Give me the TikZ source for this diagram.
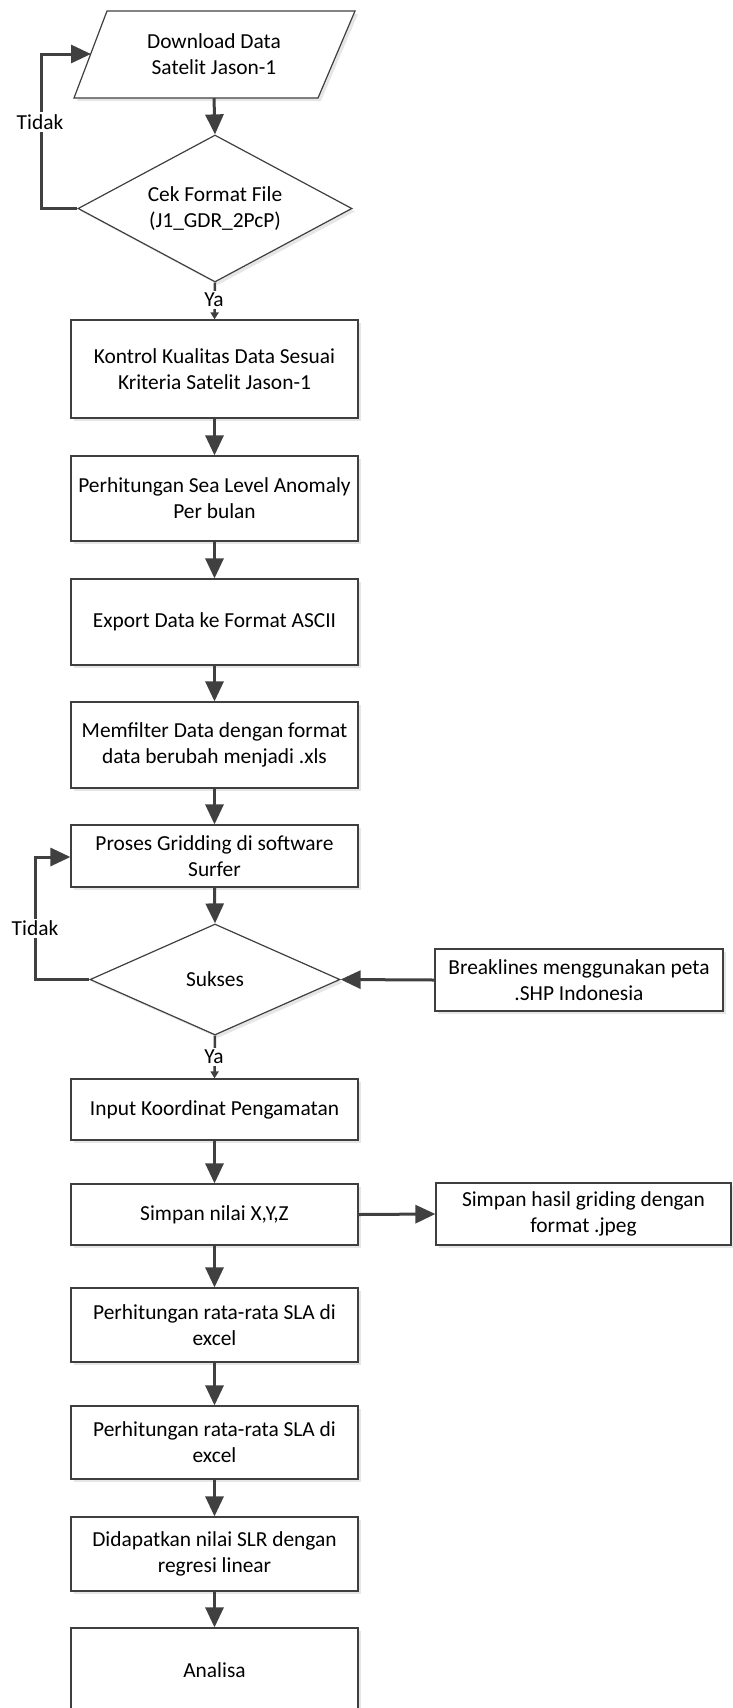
\documentclass[tikz,border=0pt]{standalone}
\usepackage{fontspec}
\setmainfont{Carlito}
\usetikzlibrary{arrows.meta,shapes.geometric,shadows}
\definecolor{lc}{HTML}{3F3F3F}
\definecolor{ac}{HTML}{404040}
\definecolor{sh}{HTML}{E6E6E6}
\newcommand{\fsz}{\fontsize{21.4}{26}\selectfont}
\tikzset{
  shd/.style={drop shadow={shadow xshift=3pt, shadow yshift=-3pt, fill=sh, opacity=1}},
  box/.style={draw=lc, line width=1.2pt, fill=white, shd, minimum width=287pt, inner sep=0pt, align=center, font=\fsz, text=black},
  sidebox/.style={box},
  dec/.style={diamond, draw=lc, line width=1.2pt, fill=white, shd, inner sep=0pt, align=center, font=\fsz, text=black},
  arr/.style={draw=ac, line width=3pt, -{Triangle[length=20pt,width=18pt]}},
  yaarr/.style={draw=ac, line width=2.5pt, -{Triangle[length=7pt,width=8pt]}},
  lbl/.style={fill=white, inner sep=2pt, font=\fsz, text=black},
}
\begin{document}
\begin{tikzpicture}[x=1pt,y=-1pt]
\useasboundingbox (0,0) rectangle (733,1708);
\clip (0,0) rectangle (733,1708);
% parallelogram
\path[draw=lc, line width=1.2pt, fill=white, shd] (107,11) -- (355,11) -- (318,98) -- (74,98) -- cycle;
\node[minimum width=200pt, minimum height=87pt, inner sep=0pt, align=center, font=\fsz] (dl) at (214,54.5) {Download Data\\Satelit Jason-1};
\coordinate (dlw) at (91,54);
% main column
\node[dec, aspect=1.86, minimum width=274pt, minimum height=147pt] (d1) at (215,208.5) {Cek Format File\\(J1\_GDR\_2PcP)};
\node[box, minimum height=98pt] (b1) at (214.5,369) {Kontrol Kualitas Data Sesuai\\Kriteria Satelit Jason-1};
\node[box, minimum height=85pt] (b2) at (214.5,498.5) {Perhitungan Sea Level Anomaly\\Per bulan};
\node[box, minimum height=86pt] (b3) at (214.5,622) {Export Data ke Format ASCII};
\node[box, minimum height=86pt] (b4) at (214.5,745) {Memfilter Data dengan format\\data berubah menjadi .xls};
\node[box, minimum height=62pt] (b5) at (214.5,856) {Proses Gridding di software\\Surfer};
\node[dec, aspect=2.25, minimum width=250pt, minimum height=111pt] (d2) at (215,979.5) {Sukses};
\node[sidebox, minimum width=288pt, minimum height=62pt] (brk) at (579,980) {Breaklines menggunakan peta\\.SHP Indonesia};
\node[box, minimum height=61pt] (b6) at (214.5,1109.5) {Input Koordinat Pengamatan};
\node[box, minimum height=61pt] (b7) at (214.5,1214.5) {Simpan nilai X,Y,Z};
\node[sidebox, minimum width=295pt, minimum height=62pt] (sv) at (583.5,1214) {Simpan hasil griding dengan\\format .jpeg};
\node[box, minimum height=74pt] (b8) at (214.5,1325) {Perhitungan rata-rata SLA di\\excel};
\node[box, minimum height=73pt] (b9) at (214.5,1442.5) {Perhitungan rata-rata SLA di\\excel};
\node[box, minimum height=74pt] (b10) at (214.5,1554) {Didapatkan nilai SLR dengan\\regresi linear};
\node[box, minimum height=84pt] (b11) at (214.5,1670) {Analisa};
% connectors
\draw[arr] (dl.south) -- (d1.north);
\draw[arr] (d1.west) -- (41,208.5) -- (41,54) -- (dlw);
\node[lbl] (t1) at (40,122) {Tidak};
\draw[yaarr] (d1.south) -- (b1.north);
\node[lbl] (y1) at (214,300) {Ya};
\draw[arr] (b1.south) -- (b2.north);
\draw[arr] (b2.south) -- (b3.north);
\draw[arr] (b3.south) -- (b4.north);
\draw[arr] (b4.south) -- (b5.north);
\draw[arr] (b5.south) -- (d2.north);
\draw[arr] (d2.west) -- (35,979.5) -- (35,857) -- (b5.west |- 0,857);
\node[lbl] (t2) at (35,928) {Tidak};
\draw[arr] (brk.west) -- (d2.east);
\draw[yaarr] (d2.south) -- (b6.north);
\node[lbl] (y2) at (214,1057) {Ya};
\draw[arr] (b6.south) -- (b7.north);
\draw[arr] (b7.east) -- (sv.west);
\draw[arr] (b7.south) -- (b8.north);
\draw[arr] (b8.south) -- (b9.north);
\draw[arr] (b9.south) -- (b10.north);
\draw[arr] (b10.south) -- (b11.north);
\end{tikzpicture}
\end{document}
